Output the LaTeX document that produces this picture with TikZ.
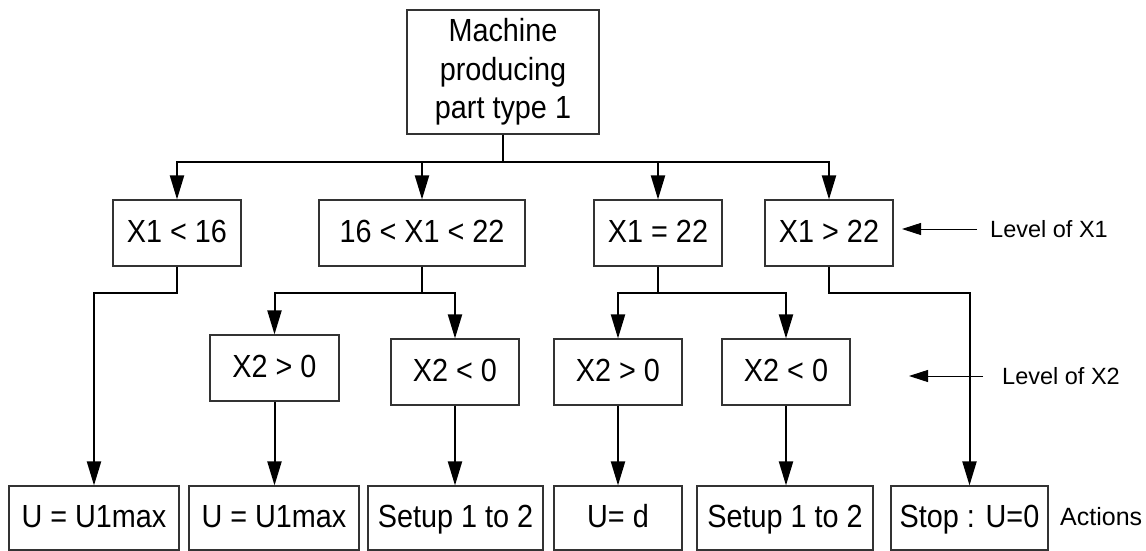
\documentclass[tikz,border=0pt]{standalone}
\usepackage{fontspec}
\setmainfont{Liberation Sans}
\newfontfamily\boxfont[FakeStretch=0.9]{Liberation Sans}
\usetikzlibrary{arrows.meta}
\begin{document}
\begin{tikzpicture}[x=1pt,y=-1pt,
  box/.style={draw=black!80, line width=1.1pt, inner sep=0pt, align=center,
    font=\boxfont\fontsize{32}{38.5}\selectfont},
  onetext/.style={text height=25pt, text depth=6pt},
  conn/.style={draw=black, line width=2pt, line join=miter,
    -{Triangle[length=24pt,width=14pt]}},
  note/.style={font=\fontsize{23.5}{28}\selectfont, inner sep=0pt, anchor=west},
  pointer/.style={draw=black, line width=1pt, -{Triangle[length=19pt,width=12pt]}}]
\useasboundingbox (0,0) rectangle (1146,551);

% root
\node[box, minimum width=192pt, minimum height=124pt] (root) at (503,72)
  {Machine\\producing\\part type 1};

% level of X1
\node[box, onetext, minimum width=128pt, minimum height=66pt] (x1a) at (177,233) {X1 < 16};
\node[box, onetext, minimum width=206pt, minimum height=66pt] (x1b) at (422,233) {16 < X1 < 22};
\node[box, onetext, minimum width=128pt, minimum height=66pt] (x1c) at (658,233) {X1 = 22};
\node[box, onetext, minimum width=128pt, minimum height=66pt] (x1d) at (829,233) {X1 > 22};

% level of X2
\node[box, onetext, minimum width=129pt, minimum height=66pt] (x2a) at (274.5,368) {X2 > 0};
\node[box, onetext, minimum width=128pt, minimum height=66pt] (x2b) at (455,372) {X2 < 0};
\node[box, onetext, minimum width=128pt, minimum height=66pt] (x2c) at (618,372) {X2 > 0};
\node[box, onetext, minimum width=128pt, minimum height=66pt] (x2d) at (786,372) {X2 < 0};

% actions
\node[box, onetext, minimum width=170pt, minimum height=64pt] (a1) at (94,518) {U = U1max};
\node[box, onetext, minimum width=170pt, minimum height=64pt] (a2) at (274,518) {U = U1max};
\node[box, onetext, minimum width=175pt, minimum height=64pt] (a3) at (455.5,518) {Setup 1 to 2};
\node[box, onetext, minimum width=128pt, minimum height=64pt] (a4) at (618,518) {U= d};
\node[box, onetext, minimum width=176pt, minimum height=64pt] (a5) at (785,518) {Setup 1 to 2};
\node[box, onetext, minimum width=157pt, minimum height=64pt] (a6) at (969.5,518) {Stop : U=0};

% bus levels
\coordinate (busA) at (0,162);
\coordinate (busB) at (0,293);

% root to X1 boxes
\foreach \t in {x1a,x1b,x1c,x1d}
  \draw[conn] (root.south) -- (root.south |- busA) -| (\t.north);

% X1 boxes to X2 boxes / actions
\draw[conn] (x1a.south) -- (x1a.south |- busB) -| (a1.north);
\draw[conn] (x1b.south) -- (x1b.south |- busB) -| (x2a.north);
\draw[conn] (x1b.south) -- (x1b.south |- busB) -| (x2b.north);
\draw[conn] (x1c.south) -- (x1c.south |- busB) -| (x2c.north);
\draw[conn] (x1c.south) -- (x1c.south |- busB) -| (x2d.north);
\draw[conn] (x1d.south) -- (x1d.south |- busB) -| (a6.north);

% X2 boxes to actions
\draw[conn] (x2a.south) -- (x2a.south |- a2.north);
\draw[conn] (x2b.south) -- (x2b.south |- a3.north);
\draw[conn] (x2c.south) -- (x2c.south |- a4.north);
\draw[conn] (x2d.south) -- (x2d.south |- a5.north);

% side labels
\node[note, inner xsep=13pt] (lx1) at (977,229) {Level of X1};
\node[note, inner xsep=19pt] (lx2) at (983,376) {Level of X2};
\node[note, font=\fontsize{25}{30}\selectfont] (lact) at (1060,517) {Actions};
\coordinate (tip1) at (902,229);
\coordinate (tip2) at (909,376);
\draw[pointer] (lx1.west) -- (tip1);
\draw[pointer] (lx2.west) -- (tip2);
\end{tikzpicture}
\end{document}
